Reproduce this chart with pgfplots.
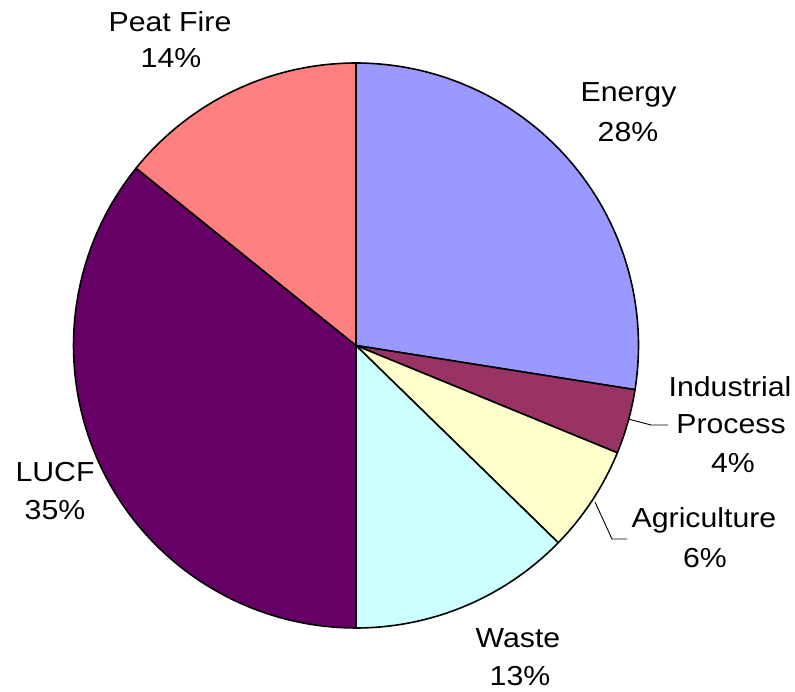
\documentclass[border=0pt]{standalone}
\usepackage{pgfplots}
\usepackage{pgfplotstable}
\pgfplotsset{compat=1.18}
\usepackage{fontspec}
\setmainfont[FakeStretch=1.1]{Liberation Sans}
\definecolor{cEnergy}{HTML}{9999FF}
\definecolor{cInd}{HTML}{993366}
\definecolor{cAgr}{HTML}{FFFFCC}
\definecolor{cWaste}{HTML}{CCFFFF}
\definecolor{cLUCF}{HTML}{660066}
\definecolor{cPeat}{HTML}{FF8080}
\pgfplotstableread{
label value
Energy 27.5
Industrial 3.7
Agriculture 6.1
Waste 12.7
LUCF 35.8
Peat 14.2
}\piedata
\newcommand\getv[2]{\pgfplotstablegetelem{#1}{value}\of\piedata\let#2\pgfplotsretval}
\getv{0}\vA\getv{1}\vB\getv{2}\vC\getv{3}\vD\getv{4}\vE\getv{5}\vF
\pgfmathsetmacro\aA{90}
\pgfmathsetmacro\aB{\aA-3.6*\vA}
\pgfmathsetmacro\aC{\aB-3.6*\vB}
\pgfmathsetmacro\aD{\aC-3.6*\vC}
\pgfmathsetmacro\aE{\aD-3.6*\vD}
\pgfmathsetmacro\aF{\aE-3.6*\vE}
\pgfmathsetmacro\aG{\aF-3.6*\vF}
\tikzset{lab/.style={font=\fontsize{27.5}{33}\selectfont, inner sep=0pt, anchor=base}}
\begin{document}%
\begin{tikzpicture}
\begin{axis}[
  x=1pt, y=1pt,
  xmin=0, xmax=795, ymin=0, ymax=691,
  axis lines=none, clip=false,
  anchor=origin, at={(0,0)},
]
\pgfplotsset{slice/.style={draw=black, line width=1.6pt, line join=round, samples=90}}
\addplot[slice, fill=cEnergy, domain=\aB:\aA] ({356+282.5*cos(x)},{345.5+282.5*sin(x)}) -- (axis cs:356,345.5) -- cycle;
\addplot[slice, fill=cInd, domain=\aC:\aB] ({356+282.5*cos(x)},{345.5+282.5*sin(x)}) -- (axis cs:356,345.5) -- cycle;
\addplot[slice, fill=cAgr, domain=\aD:\aC] ({356+282.5*cos(x)},{345.5+282.5*sin(x)}) -- (axis cs:356,345.5) -- cycle;
\addplot[slice, fill=cWaste, domain=\aE:\aD] ({356+282.5*cos(x)},{345.5+282.5*sin(x)}) -- (axis cs:356,345.5) -- cycle;
\addplot[slice, fill=cLUCF, domain=\aF:\aE] ({356+282.5*cos(x)},{345.5+282.5*sin(x)}) -- (axis cs:356,345.5) -- cycle;
\addplot[slice, fill=cPeat, domain=\aG:\aF] ({356+282.5*cos(x)},{345.5+282.5*sin(x)}) -- (axis cs:356,345.5) -- cycle;
% leader lines
\addplot[black, line width=0.9pt, mark=none] coordinates {(628,272) (651,266) (668,266)};
\addplot[black, line width=0.9pt, mark=none] coordinates {(595,189) (612,152) (627,152)};
% labels
\node[lab] at (axis cs:628.5,589) {Energy};
\node[lab] at (axis cs:628,549) {28\%};
\node[lab] at (axis cs:730,294) {Industrial};
\node[lab] at (axis cs:731,257) {Process};
\node[lab] at (axis cs:733,218) {4\%};
\node[lab] at (axis cs:704,163) {Agriculture};
\node[lab] at (axis cs:705,124) {6\%};
\node[lab] at (axis cs:518,44) {Waste};
\node[lab] at (axis cs:520,6) {13\%};
\node[lab] at (axis cs:55,209) {LUCF};
\node[lab] at (axis cs:55,171) {35\%};
\node[lab] at (axis cs:170,659) {Peat Fire};
\node[lab] at (axis cs:171,623) {14\%};
\end{axis}
\pgfresetboundingbox
\path[use as bounding box] (0,0) rectangle (795pt,691pt);
\end{tikzpicture}%
\end{document}
